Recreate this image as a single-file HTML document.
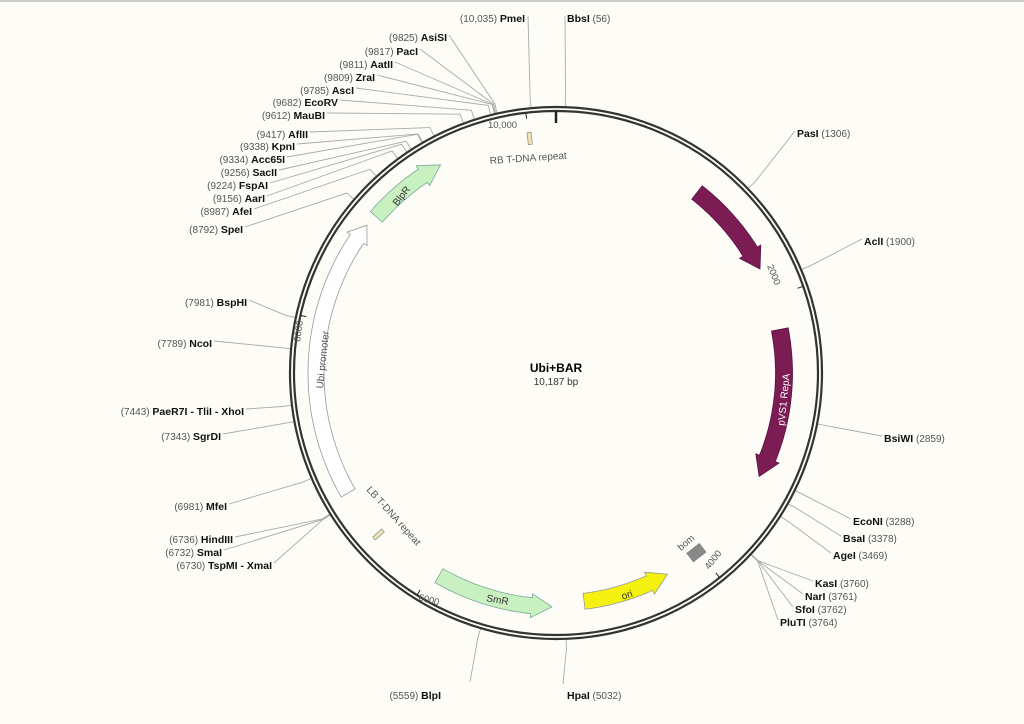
<!DOCTYPE html>
<html><head><meta charset="utf-8"><style>
html,body{margin:0;padding:0;background:#fdfcf6;}
svg{display:block;font-family:"Liberation Sans",sans-serif;}
.n{font-size:10px;fill:#555;}
.b{font-size:10.5px;font-weight:bold;fill:#111;}
</style></head><body>
<svg id="s" width="1024" height="724" viewBox="0 0 1024 724">
<rect width="1024" height="724" fill="#fdfcf6"/>
<line x1="0" y1="1" x2="1024" y2="1" stroke="#ccc" stroke-width="2"/>
<g id="lines" stroke="#aaa" stroke-width="0.9" fill="none"></g>
<g id="feat"></g>
<circle cx="556" cy="373" r="266" fill="none" stroke="#333" stroke-width="2.2"/>
<circle cx="556" cy="373" r="262" fill="none" stroke="#333" stroke-width="2.2"/>
<g id="ticks" stroke="#222"></g>
<text x="556" y="372" text-anchor="middle" style="font-size:12px;font-weight:bold">Ubi+BAR</text>
<text x="556" y="385" text-anchor="middle" style="font-size:10px;fill:#333">10,187 bp</text>
<text x="488" y="128" style="font-size:9.5px;fill:#555">10,000</text>
<text x="490" y="164" style="font-size:10px;fill:#555" transform="rotate(-4 490 164)">RB T-DNA repeat</text>
<text x="366" y="490" style="font-size:10px;fill:#555" transform="rotate(48 366 490)">LB T-DNA repeat</text>
<text x="767" y="266" style="font-size:9.5px;fill:#555" transform="rotate(68 767 266)">2000</text>
<text x="709" y="570" style="font-size:9.5px;fill:#555" transform="rotate(-52 709 570)">4000</text>
<text x="418" y="600" style="font-size:9.5px;fill:#555" transform="rotate(15 418 600)">6000</text>
<text x="300" y="342" style="font-size:9.5px;fill:#555" transform="rotate(-82 300 342)">8000</text>
<text x="723" y="248" style="font-size:10px;fill:#fff" transform="rotate(52 723 248)" text-anchor="middle">pVS1 StaA</text>
<text x="787" y="400" style="font-size:10px;fill:#fff" transform="rotate(-84 787 400)" text-anchor="middle">pVS1 RepA</text>
<text x="628" y="598" style="font-size:10px;fill:#333" transform="rotate(-18 628 598)" text-anchor="middle">ori</text>
<text x="497" y="603" style="font-size:10px;fill:#333" transform="rotate(10 497 603)" text-anchor="middle">SmR</text>
<text x="404" y="198" style="font-size:10px;fill:#333" transform="rotate(-52 404 198)" text-anchor="middle">BlpR</text>
<text x="326" y="360" style="font-size:10px;fill:#555" transform="rotate(-84 326 360)" text-anchor="middle">Ubi promoter</text>
<text x="688" y="545" style="font-size:9.5px;fill:#555" transform="rotate(-40 688 545)" text-anchor="middle">bom</text>

<g text-anchor="end">
<text x="525" y="22"><tspan class="n">(10,035) </tspan><tspan class="b">PmeI</tspan></text>
<text x="447" y="41"><tspan class="n">(9825) </tspan><tspan class="b">AsiSI</tspan></text>
<text x="418" y="55"><tspan class="n">(9817) </tspan><tspan class="b">PacI</tspan></text>
<text x="393" y="68"><tspan class="n">(9811) </tspan><tspan class="b">AatII</tspan></text>
<text x="375" y="81"><tspan class="n">(9809) </tspan><tspan class="b">ZraI</tspan></text>
<text x="354" y="94"><tspan class="n">(9785) </tspan><tspan class="b">AscI</tspan></text>
<text x="338" y="106"><tspan class="n">(9682) </tspan><tspan class="b">EcoRV</tspan></text>
<text x="325" y="119"><tspan class="n">(9612) </tspan><tspan class="b">MauBI</tspan></text>
<text x="308" y="138"><tspan class="n">(9417) </tspan><tspan class="b">AflII</tspan></text>
<text x="295" y="150"><tspan class="n">(9338) </tspan><tspan class="b">KpnI</tspan></text>
<text x="285" y="163"><tspan class="n">(9334) </tspan><tspan class="b">Acc65I</tspan></text>
<text x="277" y="176"><tspan class="n">(9256) </tspan><tspan class="b">SacII</tspan></text>
<text x="268" y="189"><tspan class="n">(9224) </tspan><tspan class="b">FspAI</tspan></text>
<text x="265" y="202"><tspan class="n">(9156) </tspan><tspan class="b">AarI</tspan></text>
<text x="252" y="215"><tspan class="n">(8987) </tspan><tspan class="b">AfeI</tspan></text>
<text x="243" y="233"><tspan class="n">(8792) </tspan><tspan class="b">SpeI</tspan></text>
<text x="247" y="306"><tspan class="n">(7981) </tspan><tspan class="b">BspHI</tspan></text>
<text x="212" y="347"><tspan class="n">(7789) </tspan><tspan class="b">NcoI</tspan></text>
<text x="244" y="415"><tspan class="n">(7443) </tspan><tspan class="b">PaeR7I - TliI - XhoI</tspan></text>
<text x="221" y="440"><tspan class="n">(7343) </tspan><tspan class="b">SgrDI</tspan></text>
<text x="227" y="510"><tspan class="n">(6981) </tspan><tspan class="b">MfeI</tspan></text>
<text x="233" y="543"><tspan class="n">(6736) </tspan><tspan class="b">HindIII</tspan></text>
<text x="222" y="556"><tspan class="n">(6732) </tspan><tspan class="b">SmaI</tspan></text>
<text x="272" y="569"><tspan class="n">(6730) </tspan><tspan class="b">TspMI - XmaI</tspan></text>
<text x="441" y="699"><tspan class="n">(5559) </tspan><tspan class="b">BlpI</tspan></text>
</g>
<g>
<text x="567" y="22"><tspan class="b">BbsI</tspan><tspan class="n"> (56)</tspan></text>
<text x="797" y="137"><tspan class="b">PasI</tspan><tspan class="n"> (1306)</tspan></text>
<text x="864" y="245"><tspan class="b">AclI</tspan><tspan class="n"> (1900)</tspan></text>
<text x="884" y="442"><tspan class="b">BsiWI</tspan><tspan class="n"> (2859)</tspan></text>
<text x="853" y="525"><tspan class="b">EcoNI</tspan><tspan class="n"> (3288)</tspan></text>
<text x="843" y="542"><tspan class="b">BsaI</tspan><tspan class="n"> (3378)</tspan></text>
<text x="833" y="559"><tspan class="b">AgeI</tspan><tspan class="n"> (3469)</tspan></text>
<text x="815" y="587"><tspan class="b">KasI</tspan><tspan class="n"> (3760)</tspan></text>
<text x="805" y="600"><tspan class="b">NarI</tspan><tspan class="n"> (3761)</tspan></text>
<text x="795" y="613"><tspan class="b">SfoI</tspan><tspan class="n"> (3762)</tspan></text>
<text x="780" y="626"><tspan class="b">PluTI</tspan><tspan class="n"> (3764)</tspan></text>
<text x="567" y="699"><tspan class="b">HpaI</tspan><tspan class="n"> (5032)</tspan></text>
</g>
</svg>
<script>
var cx=556,cy=373,R=266,N=10187,NS="http://www.w3.org/2000/svg";
function P(a,r){var t=a*Math.PI/180;return [cx+r*Math.sin(t),cy-r*Math.cos(t)];}
function A(bp){return bp/N*360;}
function el(g,tag,at){var e=document.createElementNS(NS,tag);for(var k in at)e.setAttribute(k,at[k]);document.getElementById(g).appendChild(e);return e;}
var L=[[528,16,10035],[449,35,9825],[420,49,9817],[395,62,9811],[377,75,9809],[356,88,9785],[340,100,9682],[327,113,9612],[310,132,9417],[297,144,9338],[287,157,9334],[279,170,9256],[270,183,9224],[267,196,9156],[254,209,8987],[245,227,8792],[249,300,7981],[214,341,7789],[246,409,7443],[223,434,7343],[229,504,6981],[235,537,6736],[224,550,6732],[274,563,6730],[470,682,5559],
[565,16,56],[795,131,1306],[862,239,1900],[882,436,2859],[851,519,3288],[841,536,3378],[831,553,3469],[813,581,3760],[803,594,3761],[793,607,3762],[778,620,3764],[563,684,5032]];
L.forEach(function(l){var a=A(l[2]),p1=P(a,R+10),p0=P(a,R);el("lines","polyline",{points:l[0]+","+l[1]+" "+p1[0]+","+p1[1]+" "+p0[0]+","+p0[1]});});
function arrow(a1,a2,rc,w,head,fill,stroke){
 var dir=a2>a1?1:-1,ah=a2-dir*head,ri=rc-w/2,ro=rc+w/2,hi=rc-w/2-4,ho=rc+w/2+4;
 var p=[],s=[];var steps=30;
 for(var i=0;i<=steps;i++){var a=a1+(ah-a1)*i/steps;s.push(P(a,ro));}
 s.push(P(ah,ho));s.push(P(a2,rc));s.push(P(ah,hi));
 for(var i=steps;i>=0;i--){var a=a1+(ah-a1)*i/steps;s.push(P(a,ri));}
 el("feat","polygon",{points:s.map(function(q){return q[0].toFixed(1)+","+q[1].toFixed(1)}).join(" "),fill:fill,stroke:stroke,"stroke-width":0.8});
}
arrow(38,63,229,17,5,"#7b1c55","#5a1240");
arrow(79,117,228,17,5,"#7b1c55","#5a1240");
arrow(173,151,230,16,5,"#f4f00f","#999");
arrow(210,181,234,16,5,"#c9f0c0","#7a9");
arrow(240,308,240,16,4,"#fff","#999");
arrow(311,331,238,16,5,"#c9f0c0","#7a9");
// small boxes
function box(a,r,w,h,fill){var p=P(a,r);var g=el("feat","rect",{x:-w/2,y:-h/2,width:w,height:h,fill:fill,stroke:"#888","stroke-width":0.7,transform:"translate("+p[0]+","+p[1]+") rotate("+a+")"});}
box(353.6,236,4,12,"#efe3b0");
box(227.7,240,4,12,"#efe3b0");
box(142,228,16,11,"#888");
// ticks
[2000,4000,6000,8000,10000].forEach(function(b){var a=A(b),p=P(a,262),q=P(a,256);el("ticks","line",{x1:p[0],y1:p[1],x2:q[0],y2:q[1],"stroke-width":1});});
var p=P(0,262),q=P(0,250);el("ticks","line",{x1:p[0],y1:p[1],x2:q[0],y2:q[1],"stroke-width":2.5});
</script>
</body></html>
